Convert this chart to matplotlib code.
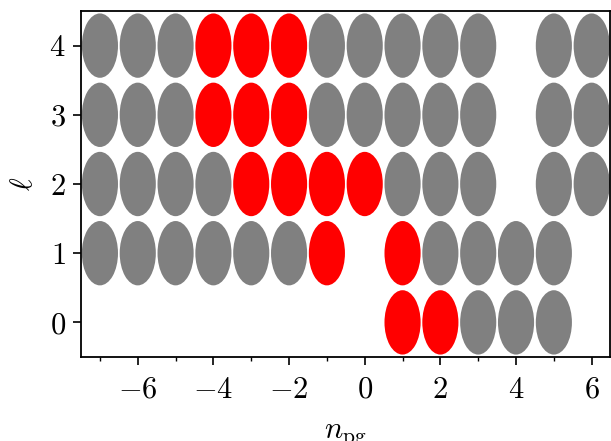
import numpy as np
import matplotlib
matplotlib.use("Agg")
import matplotlib.pyplot as plt
from matplotlib.patches import Ellipse
from matplotlib.ticker import MultipleLocator, FuncFormatter

plt.rcParams['mathtext.fontset'] = 'cm'
plt.rcParams['font.family'] = 'serif'
plt.rcParams['font.serif'] = ['cmr10', 'DejaVu Serif']

# modes present for each degree l, and which of them are highlighted
ell = [0, 1, 2, 3, 4]
n_pg = {
    0: [1, 2, 3, 4, 5],
    1: [-7, -6, -5, -4, -3, -2, -1, 1, 2, 3, 4, 5],
    2: [-7, -6, -5, -4, -3, -2, -1, 0, 1, 2, 3, 5, 6],
    3: [-7, -6, -5, -4, -3, -2, -1, 0, 1, 2, 3, 5, 6],
    4: [-7, -6, -5, -4, -3, -2, -1, 0, 1, 2, 3, 5, 6],
}
red_modes = {
    0: [1, 2],
    1: [-1, 1],
    2: [-3, -2, -1, 0],
    3: [-4, -3, -2],
    4: [-4, -3, -2],
}

fig = plt.figure(figsize=(6.11, 4.41), dpi=100)
ax = fig.add_axes([0.1326, 0.1905, 0.8655, 0.7845])

for l in ell:
    for n in n_pg[l]:
        c = 'red' if n in red_modes[l] else 'gray'
        ax.add_patch(Ellipse((n, l), 0.955, 0.93, facecolor=c, edgecolor='none'))

ax.set_xlim(-7.5, 6.48)
ax.set_ylim(-0.5, 4.5)
ax.xaxis.set_major_locator(MultipleLocator(2))
ax.xaxis.set_minor_locator(MultipleLocator(1))
ax.yaxis.set_major_locator(MultipleLocator(1))
fmt = FuncFormatter(lambda v, p: r'$%d$' % round(v))
ax.xaxis.set_major_formatter(fmt)
ax.yaxis.set_major_formatter(fmt)
ax.tick_params(which='major', length=6, width=1.2, labelsize=22, pad=5)
ax.tick_params(axis='x', which='major', pad=8)
ax.tick_params(which='minor', length=3, width=1.0)
for s in ax.spines.values():
    s.set_linewidth(1.3)

ax.set_xlabel(r'$n_{\rm pg}$', fontsize=22, labelpad=13)
ax.set_ylabel(r'$\ell$', fontsize=22, labelpad=8)

fig.savefig('out.png', dpi=100)
